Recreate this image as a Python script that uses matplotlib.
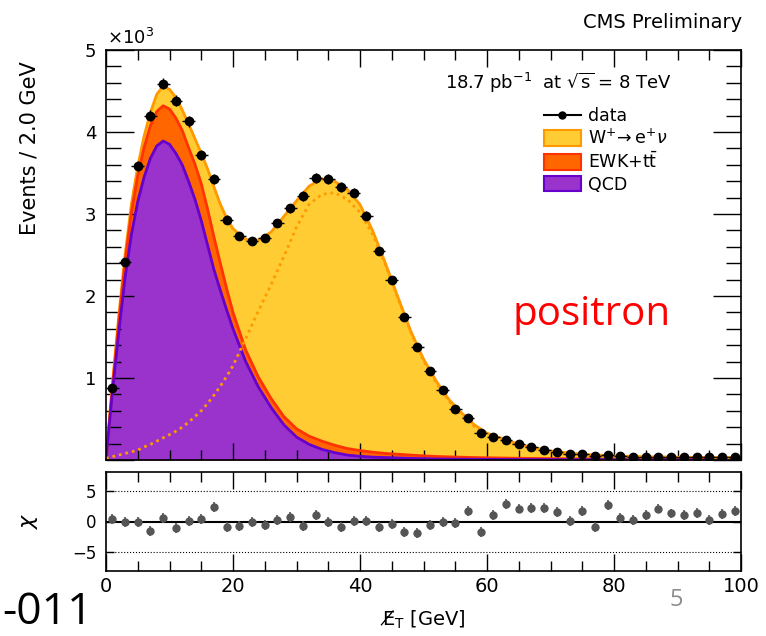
import numpy as np
import matplotlib.pyplot as plt
from matplotlib.lines import Line2D
from matplotlib.patches import Patch
from matplotlib.ticker import MultipleLocator, FuncFormatter

# ---------- DATA (values in units of 10^3 events) ----------

grid_x = [0, 1, 2, 3, 4, 5, 6, 7, 8, 9, 10, 11, 12, 13, 14, 15, 16, 17, 18, 19, 20,
          22, 24, 26, 28, 30, 32, 34, 36, 38, 40, 42, 44, 46, 48, 50, 52, 54, 56, 58, 60,
          65, 70, 75, 80, 85, 90, 95, 100]

qcd = [0.00, 0.82, 1.55, 2.22, 2.75, 3.15, 3.45, 3.68, 3.83, 3.89, 3.85, 3.74, 3.60, 3.40, 3.18, 2.92, 2.62, 2.32, 2.07, 1.83, 1.60,
       1.20, 0.89, 0.64, 0.43, 0.28, 0.19, 0.13, 0.09, 0.06, 0.045, 0.035, 0.03, 0.025, 0.02, 0.016, 0.013, 0.011, 0.010, 0.009, 0.008,
       0.006, 0.005, 0.004, 0.004, 0.003, 0.003, 0.003, 0.003]

ewk = [0.00, 0.06, 0.13, 0.20, 0.27, 0.32, 0.36, 0.40, 0.42, 0.43, 0.43, 0.43, 0.42, 0.41, 0.43, 0.45, 0.44, 0.40, 0.33, 0.26, 0.20,
       0.14, 0.12, 0.11, 0.10, 0.10, 0.10, 0.10, 0.09, 0.08, 0.07, 0.06, 0.05, 0.045, 0.04, 0.035, 0.03, 0.027, 0.024, 0.021, 0.019,
       0.015, 0.012, 0.010, 0.008, 0.007, 0.006, 0.005, 0.005]

wenu = [0.02, 0.04, 0.07, 0.08, 0.10, 0.11, 0.14, 0.16, 0.21, 0.24, 0.24, 0.25, 0.25, 0.29, 0.31, 0.37, 0.49, 0.61, 0.72, 0.86, 1.02,
        1.35, 1.67, 2.03, 2.44, 2.78, 3.05, 3.20, 3.22, 3.16, 3.00, 2.70, 2.32, 1.91, 1.51, 1.18, 0.92, 0.70, 0.54, 0.40, 0.30,
        0.17, 0.093, 0.056, 0.038, 0.030, 0.026, 0.022, 0.022]

# signal shape alone (dotted line)
wenu_shape = [0.02, 0.04, 0.06, 0.08, 0.10, 0.12, 0.16, 0.19, 0.23, 0.27, 0.31, 0.35, 0.40, 0.46, 0.53, 0.60, 0.69, 0.79, 0.90, 1.02, 1.15,
              1.48, 1.82, 2.14, 2.48, 2.84, 3.12, 3.24, 3.26, 3.18, 3.02, 2.75, 2.38, 1.97, 1.56, 1.21, 0.94, 0.72, 0.55, 0.41, 0.31,
              0.17, 0.095, 0.057, 0.040, 0.030, 0.026, 0.022, 0.022]

# data, 2 GeV bins
data_k = [0.88, 2.41, 3.59, 4.20, 4.59, 4.38, 4.13, 3.72, 3.43, 2.93,
          2.73, 2.67, 2.71, 2.89, 3.07, 3.22, 3.44, 3.43, 3.33, 3.26,
          2.98, 2.55, 2.20, 1.74, 1.38, 1.09, 0.85, 0.62, 0.51, 0.33,
          0.28, 0.25, 0.19, 0.16, 0.12, 0.10, 0.07, 0.07, 0.05, 0.06,
          0.05, 0.04, 0.04, 0.04, 0.04, 0.04, 0.035, 0.035, 0.035, 0.035]

chi = [0.4, -0.05, -0.05, -1.55, 0.6, -1.1, 0.15, 0.4, 2.3, -0.9,
       -0.75, -0.1, -0.5, 0.3, 0.7, -0.75, 1.1, -0.1, -0.9, 0.15,
       0.15, -0.9, -0.4, -1.7, -1.8, -0.6, -0.05, -0.2, 1.75, -1.65,
       1.0, 2.85, 2.1, 2.2, 2.2, 1.5, 0.15, 1.75, -0.9, 2.6,
       0.6, 0.3, 1.0, 2.1, 1.3, 1.1, 1.4, 0.3, 1.2, 1.75]

labels = ["data", r"W$^{+}\!\rightarrow$e$^{+}\nu$", r"EWK+t$\bar{\mathrm{t}}$", "QCD"]

# ---------- STYLE ----------
YELLOW = "#FFCC33"
ORANGE = "#FF9900"
EWK_FILL = "#FF6600"
EWK_LINE = "#FF3300"
QCD_FILL = "#9933CC"
QCD_LINE = "#6600CC"

W, H = 766, 636


def fx(px):
    return px / W


def fy(py):
    return 1 - py / H


def style_ticks(a, ymaj_len, ymin_len):
    a.tick_params(which="both", direction="in", top=True, right=True, width=1)
    a.tick_params(axis="x", which="major", length=12)
    a.tick_params(axis="x", which="minor", length=7)
    a.tick_params(axis="y", which="major", length=ymaj_len)
    a.tick_params(axis="y", which="minor", length=ymin_len)
    a.xaxis.set_major_locator(MultipleLocator(20))
    a.xaxis.set_minor_locator(MultipleLocator(5))
    for s in a.spines.values():
        s.set_linewidth(1.2)


fig = plt.figure(figsize=(W / 100, H / 100), dpi=100)
ax = fig.add_axes([fx(106), fy(460), fx(635), 410 / H])
axr = fig.add_axes([fx(106), fy(571), fx(635), 99 / H])

# ---------- MAIN PANEL ----------
x = np.array(grid_x)
lay1 = np.array(qcd)
lay2 = lay1 + np.array(ewk)
lay3 = lay2 + np.array(wenu)

ax.fill_between(x, 0, lay3, color=YELLOW, lw=0)
ax.plot(x, lay3, color=ORANGE, lw=2)
ax.fill_between(x, 0, lay2, color=EWK_FILL, lw=0)
ax.plot(x, lay2, color=EWK_LINE, lw=2)
ax.fill_between(x, 0, lay1, color=QCD_FILL, lw=0)
ax.plot(x, lay1, color=QCD_LINE, lw=2)
ax.plot(x, wenu_shape, color=ORANGE, lw=2, ls=(0, (1, 1.4)))

data_x = np.arange(1, 100, 2)
data_arr = np.array(data_k)
ax.errorbar(data_x, data_arr, xerr=1, yerr=np.sqrt(data_arr * 1000) / 1000,
            fmt="o", color="black", ms=6, elinewidth=1, capsize=0, zorder=5)

ax.set_xlim(0, 100)
ax.set_ylim(0, 5)
style_ticks(ax, 20, 11)
ax.yaxis.set_major_locator(MultipleLocator(1))
ax.yaxis.set_minor_locator(MultipleLocator(0.2))
ax.yaxis.set_major_formatter(FuncFormatter(lambda v, p: "" if v == 0 else f"{v:g}"))
ax.tick_params(axis="y", labelsize=13, pad=7)
ax.tick_params(labelbottom=False)

handles = [Line2D([0], [0], color="black", marker="o", ms=5, lw=1.5),
           Patch(facecolor=YELLOW, edgecolor=ORANGE, lw=1.5),
           Patch(facecolor=EWK_FILL, edgecolor=EWK_LINE, lw=1.5),
           Patch(facecolor=QCD_FILL, edgecolor=QCD_LINE, lw=1.5)]
ax.legend(handles, labels, loc="upper left", bbox_to_anchor=(0.69, 0.86), frameon=False,
          fontsize=12.5, handlelength=2.1, handleheight=1.0, labelspacing=0.2,
          handletextpad=0.4, borderpad=0, borderaxespad=0)

# ---------- CHI PANEL ----------
axr.axhline(0, color="black", lw=1.5)
for lvl in (-5, 5):
    axr.axhline(lvl, color="black", lw=0.8, ls=":")
axr.errorbar(data_x, chi, yerr=0.8, fmt="o", color="#555555", ms=5, elinewidth=1.2, capsize=0)
axr.set_xlim(0, 100)
axr.set_ylim(-8, 8)
axr.set_yticks([-5, 0, 5])
style_ticks(axr, 6, 3)
axr.tick_params(axis="y", labelsize=12, pad=7)
axr.tick_params(axis="x", labelsize=14, pad=4)

# ---------- TEXT ----------
fig.text(fx(742), fy(22), "CMS Preliminary", ha="right", va="center", fontsize=14)
fig.text(fx(445), fy(83), r"18.7 pb$^{-1}$  at $\sqrt{\mathrm{s}}$ = 8 TeV", ha="left", va="center", fontsize=13)
fig.text(fx(107), fy(38), r"$\times$10$^{3}$", ha="left", va="center", fontsize=13)
fig.text(fx(30), fy(148), "Events / 2.0 GeV", rotation=90, ha="center", va="center", fontsize=15)
fig.text(fx(30), fy(521), r"$\chi$", rotation=90, ha="center", va="center", fontsize=16)
fig.text(fx(423), fy(620), "E\u0338$_{\\mathrm{T}}$ [GeV]", ha="center", va="center", fontsize=14)
fig.text(fx(592), fy(325), "positron", color="red", family="Open Sans", fontsize=29, ha="center", va="baseline")
fig.text(fx(2), fy(635), "-011", family="Open Sans", fontsize=32, ha="left", va="bottom")
fig.text(fx(676), fy(606), "5", color="#8c8c8c", family="Open Sans", fontsize=17, ha="center", va="baseline")

fig.savefig("out.png", dpi=100)
print("Saved: out.png")
